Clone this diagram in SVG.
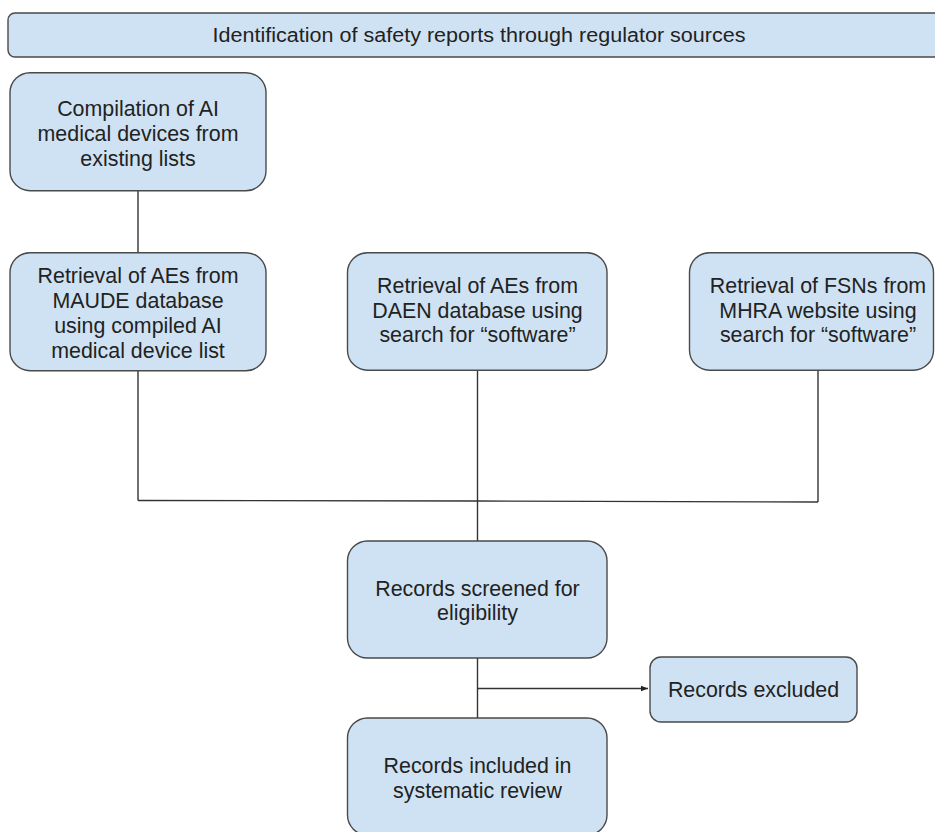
<svg xmlns="http://www.w3.org/2000/svg" width="935" height="832" viewBox="0 0 935 832">
<defs>
<style>
.box{fill:#cfe2f3;stroke:#4a4a4a;stroke-width:1.4}
.t{font-family:"Liberation Sans",Arial,sans-serif;font-size:21.4px;fill:#222;text-anchor:middle}
.c{fill:none;stroke:#333;stroke-width:1.4}
</style>
<marker id="ah" viewBox="0 0 10 10" refX="10" refY="5" markerWidth="7" markerHeight="7" markerUnits="userSpaceOnUse" orient="auto">
<path d="M0,1 L10,5 L0,9 Z" fill="#222"/>
</marker>
</defs>
<rect width="935" height="832" fill="#ffffff"/>
<g id="connectors">
<line class="c" x1="138" y1="190.7" x2="138" y2="252.7"/>
<line class="c" x1="138" y1="370.7" x2="138" y2="500.5"/>
<line class="c" x1="477.5" y1="370.5" x2="477.5" y2="541"/>
<line class="c" x1="818" y1="370.5" x2="818" y2="502"/>
<polyline class="c" points="138,500.5 477.5,501 818,502"/>
<line class="c" x1="477.5" y1="658" x2="477.5" y2="718"/>
<line class="c" x1="477.5" y1="688.5" x2="648" y2="688.5" marker-end="url(#ah)"/>
</g>
<g id="banner">
<rect class="box" x="8" y="13" width="945" height="44" rx="7"/>
<text class="t" x="479" y="42" textLength="533" lengthAdjust="spacingAndGlyphs" style="font-size:20px">Identification of safety reports through regulator sources</text>
</g>
<g id="compilation">
<rect class="box" x="10" y="72.7" width="256" height="118" rx="20"/>
<text class="t" x="138" y="116">Compilation of AI</text>
<text class="t" x="138" y="141">medical devices from</text>
<text class="t" x="138" y="166">existing lists</text>
</g>
<g id="maude">
<rect class="box" x="10" y="252.7" width="256" height="118" rx="20"/>
<text class="t" x="138" y="283">Retrieval of AEs from</text>
<text class="t" x="138" y="308">MAUDE database</text>
<text class="t" x="138" y="333">using compiled AI</text>
<text class="t" x="138" y="358">medical device list</text>
</g>
<g id="daen">
<rect class="box" x="347.5" y="252.7" width="259.5" height="117.5" rx="20"/>
<text class="t" x="477.5" y="293">Retrieval of AEs from</text>
<text class="t" x="477.5" y="318">DAEN database using</text>
<text class="t" x="477.5" y="342">search for “software”</text>
</g>
<g id="mhra">
<rect class="box" x="689.5" y="252.7" width="244" height="117.5" rx="20"/>
<text class="t" x="818" y="293">Retrieval of FSNs from</text>
<text class="t" x="818" y="318">MHRA website using</text>
<text class="t" x="818" y="342">search for “software”</text>
</g>
<g id="screened">
<rect class="box" x="347.5" y="541" width="259.5" height="117" rx="20"/>
<text class="t" x="477.5" y="596">Records screened for</text>
<text class="t" x="477.5" y="620">eligibility</text>
</g>
<g id="excluded">
<rect class="box" x="650" y="657" width="207" height="65" rx="11"/>
<text class="t" x="753.5" y="697">Records excluded</text>
</g>
<g id="included">
<rect class="box" x="347.5" y="718" width="259.5" height="117" rx="20"/>
<text class="t" x="477.5" y="773">Records included in</text>
<text class="t" x="477.5" y="798">systematic review</text>
</g>
</svg>
